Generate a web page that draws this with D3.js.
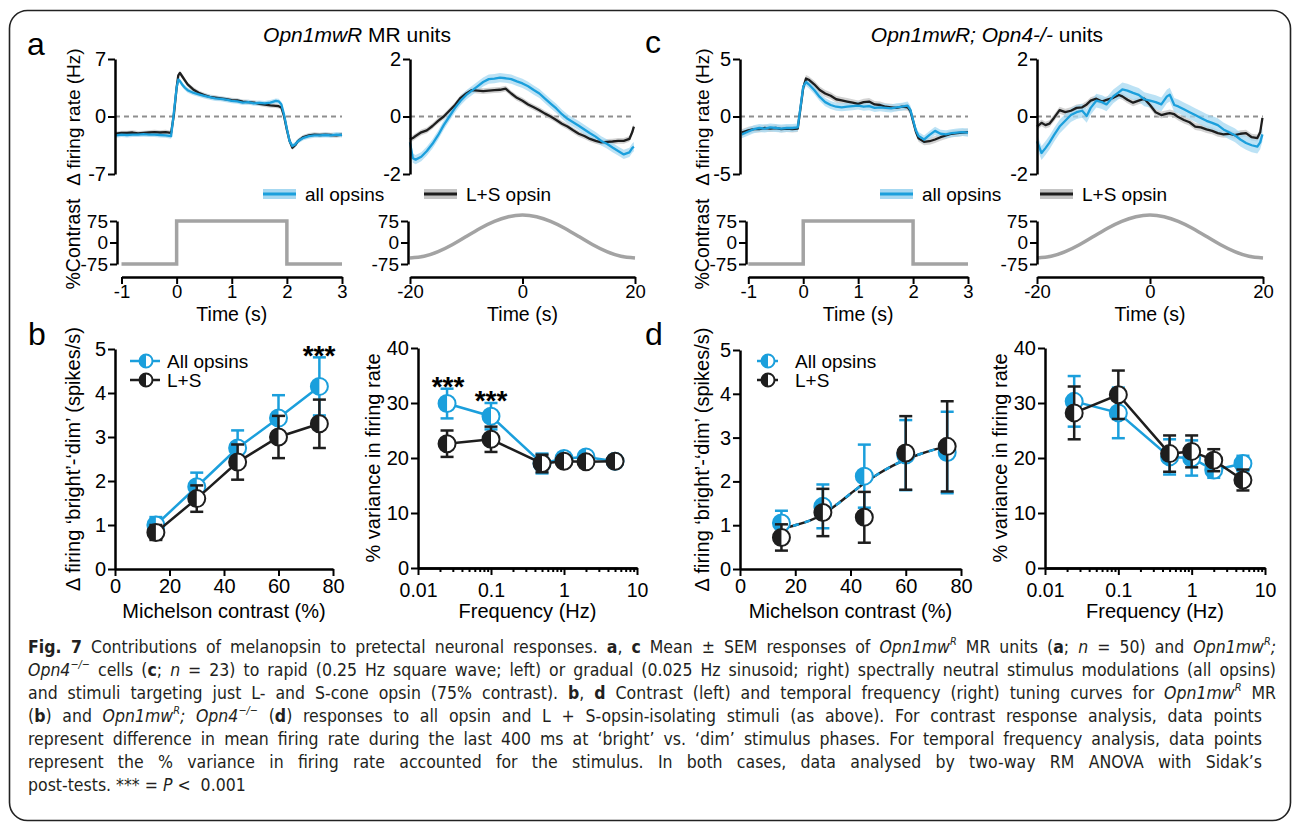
<!DOCTYPE html>
<html>
<head>
<meta charset="utf-8">
<script src="https://cdn.jsdelivr.net/npm/d3@7"></script>
<style>
  body { margin: 0; background: #fff; }
  svg text { font-family: "Liberation Sans", Arial, Helvetica, sans-serif; }
  #caption {
    position: absolute; left: 28px; top: 636px;
    font-family: "Liberation Sans Narrow", "Arial Narrow", "DejaVu Sans Condensed", sans-serif;
    font-stretch: condensed;
    font-size: 17.5px; line-height: 23px; color: #231f20;
  }
  #caption .ln { text-align: justify; text-align-last: justify; white-space: nowrap; height: 23px; }
  #caption .last { text-align: left; text-align-last: left; }
  #caption sup { font-size: 0.62em; line-height: 0; position: relative; top: -0.15em; }
</style>
</head>
<body>
<svg id="fig" width="1296" height="826"></svg>
<div id="caption">
  <div class="ln" style="width:1248px"><b>Fig. 7</b> Contributions of melanopsin to pretectal neuronal responses. <b>a</b>, <b>c</b> Mean ± SEM responses of <i>Opn1mw<sup>R</sup></i> MR units (<b>a</b>; <i>n</i> = 50) and <i>Opn1mw<sup>R</sup>;</i></div>
  <div class="ln" style="width:1248px"><i>Opn4<sup>−/−</sup></i> cells (<b>c</b>; <i>n</i> = 23) to rapid (0.25 Hz square wave; left) or gradual (0.025 Hz sinusoid; right) spectrally neutral stimulus modulations (all opsins)</div>
  <div class="ln" style="width:1248px">and stimuli targeting just L- and S-cone opsin (75% contrast). <b>b</b>, <b>d</b> Contrast (left) and temporal frequency (right) tuning curves for <i>Opn1mw<sup>R</sup></i> MR</div>
  <div class="ln" style="width:1234px">(<b>b</b>) and <i>Opn1mw<sup>R</sup>; Opn4<sup>−/−</sup></i> (<b>d</b>) responses to all opsin and L + S-opsin-isolating stimuli (as above). For contrast response analysis, data points</div>
  <div class="ln" style="width:1234px">represent difference in mean firing rate during the last 400 ms at ‘bright’ vs. ‘dim’ stimulus phases. For temporal frequency analysis, data points</div>
  <div class="ln" style="width:1234px">represent the % variance in firing rate accounted for the stimulus. In both cases, data analysed by two-way RM ANOVA with Sidak’s</div>
  <div class="ln last">post-tests. *** = <i>P</i> &lt;&nbsp; 0.001</div>
</div>
<script>
// colours
var blue = "#1b9fdc", blueBand = "#a6d8f1", black = "#1e1e1e", grayBand = "#c4c4c4", stimGray = "#a3a3a3";

// ---- panel a : Opn1mwR MR units ----
// square wave (left)
var tSqA = [-1.1, -1.0, -0.9, -0.8, -0.7, -0.6, -0.5, -0.4, -0.3, -0.2, -0.1, -0.05, 0.0, 0.03, 0.06, 0.1, 0.15, 0.2, 0.3, 0.4, 0.5, 0.6, 0.7, 0.8, 0.9, 1.0, 1.1, 1.2, 1.3, 1.4, 1.5, 1.6, 1.7, 1.8, 1.85, 1.9, 1.95, 2.0, 2.05, 2.1, 2.15, 2.2, 2.3, 2.4, 2.5, 2.6, 2.7, 2.8, 2.9, 3.0];
var allSqA = [-2.3, -2.2, -2.25, -2.2, -2.2, -2.15, -2.2, -2.2, -2.25, -2.3, -2.4, 0.5, 3.5, 4.5, 4.3, 3.9, 3.5, 3.2, 2.9, 2.7, 2.5, 2.35, 2.2, 2.15, 2.05, 1.9, 1.85, 1.7, 1.75, 1.6, 1.65, 1.6, 1.7, 1.9, 1.85, 1.5, 0.2, -1.5, -3.0, -3.6, -3.4, -3.0, -2.6, -2.4, -2.3, -2.3, -2.25, -2.3, -2.2, -2.25];
var lsSqA = [-2.1, -2.0, -2.0, -1.95, -2.05, -2.0, -1.95, -1.9, -1.95, -1.9, -2.0, 0.2, 3.5, 5.0, 5.3, 4.9, 4.4, 3.9, 3.3, 2.9, 2.6, 2.4, 2.3, 2.2, 2.1, 2.0, 1.95, 1.8, 1.75, 1.7, 1.55, 1.45, 1.35, 1.3, 1.25, 1.1, 0.0, -1.6, -3.0, -3.8, -3.5, -3.0, -2.5, -2.3, -2.2, -2.25, -2.2, -2.25, -2.3, -2.2];
// sinusoid (right)
var tSinA = [-20, -19.5, -19, -18, -17, -16, -15, -14, -13, -12, -11, -10, -9, -8, -7, -6, -5, -4, -3, -2, -1, 0, 1, 2, 3, 4, 5, 6, 7, 8, 9, 10, 11, 12, 13, 14, 15, 16, 17, 18, 19, 19.5, 19.8];
var allSinA = [-0.9, -1.45, -1.5, -1.4, -1.2, -0.95, -0.65, -0.3, 0.0, 0.3, 0.55, 0.75, 0.9, 1.05, 1.2, 1.3, 1.32, 1.35, 1.33, 1.3, 1.22, 1.15, 1.05, 0.92, 0.8, 0.62, 0.45, 0.28, 0.08, -0.08, -0.2, -0.32, -0.45, -0.58, -0.7, -0.85, -0.95, -1.08, -1.2, -1.32, -1.25, -1.1, -1.05];
var lsSinA = [-0.8, -0.75, -0.68, -0.55, -0.48, -0.33, -0.15, 0.0, 0.2, 0.4, 0.65, 0.8, 0.92, 0.9, 0.88, 0.9, 0.92, 0.93, 0.97, 0.8, 0.65, 0.55, 0.42, 0.32, 0.22, 0.1, 0.0, -0.12, -0.25, -0.35, -0.48, -0.6, -0.68, -0.78, -0.85, -0.9, -0.88, -0.87, -0.85, -0.85, -0.78, -0.55, -0.35];

// ---- panel c : Opn1mwR; Opn4-/- units ----
var tSqC = [-1.12, -1.0, -0.9, -0.8, -0.7, -0.6, -0.5, -0.4, -0.3, -0.2, -0.1, -0.05, 0.0, 0.05, 0.1, 0.2, 0.3, 0.4, 0.5, 0.6, 0.7, 0.8, 0.9, 1.0, 1.1, 1.2, 1.3, 1.4, 1.5, 1.6, 1.7, 1.8, 1.9, 1.95, 2.0, 2.05, 2.1, 2.2, 2.3, 2.4, 2.5, 2.6, 2.7, 2.8, 2.9, 3.0];
var allSqC = [-1.55, -1.3, -1.1, -1.0, -1.05, -0.95, -1.0, -1.05, -1.0, -1.0, -0.95, 0.8, 2.6, 3.0, 2.8, 2.3, 1.7, 1.25, 1.0, 0.85, 0.8, 0.85, 0.9, 0.95, 0.85, 0.9, 0.75, 0.8, 0.75, 0.7, 0.8, 0.85, 0.95, 0.6, -0.3, -1.2, -1.7, -2.0, -1.6, -1.25, -1.5, -1.55, -1.45, -1.4, -1.35, -1.4];
var lsSqC = [-1.4, -1.2, -1.1, -1.1, -1.0, -1.05, -1.0, -1.1, -1.05, -1.1, -1.05, 0.7, 2.5, 3.3, 3.2, 2.8, 2.3, 2.0, 1.8, 1.5, 1.4, 1.3, 1.2, 1.1, 1.25, 1.3, 1.05, 1.0, 0.85, 0.8, 0.75, 0.85, 0.8, 0.5, -0.4, -1.3, -1.9, -2.2, -2.15, -2.0, -1.8, -1.65, -1.5, -1.45, -1.4, -1.35];
var tSinC = [-20, -19.2, -18.5, -17.8, -17, -16, -15, -14, -13, -12, -11.2, -10.5, -9.5, -8.5, -7.7, -6.5, -5.5, -4.9, -4, -3, -2, -1, 0, 1, 2, 3, 3.5, 4.3, 5, 6, 7, 8, 9, 10, 11, 12, 13, 14, 15, 16, 17, 18, 19, 19.5, 19.9];
var allSinC = [-0.86, -1.27, -1.1, -0.91, -0.65, -0.35, -0.15, 0.05, 0.15, 0.2, 0.02, 0.3, 0.55, 0.5, 0.42, 0.7, 0.85, 0.94, 0.9, 0.82, 0.75, 0.6, 0.55, 0.5, 0.42, 0.7, 0.76, 0.4, 0.35, 0.25, 0.15, 0.05, -0.05, -0.15, -0.22, -0.3, -0.45, -0.55, -0.65, -0.8, -0.92, -1.0, -1.05, -0.9, -0.62];
var lsSinC = [-0.35, -0.22, -0.3, -0.25, -0.05, 0.22, 0.15, 0.2, 0.3, 0.32, 0.42, 0.55, 0.62, 0.52, 0.58, 0.65, 0.75, 0.7, 0.58, 0.48, 0.55, 0.62, 0.4, 0.15, 0.05, 0.1, 0.12, 0.08, -0.02, -0.12, -0.2, -0.35, -0.38, -0.45, -0.5, -0.58, -0.62, -0.6, -0.65, -0.6, -0.58, -0.72, -0.75, -0.55, -0.05];

// SEM half-widths of the shaded bands (Hz)
var semSqA = [0.3, 0.28], semSinA = [0.16, 0.1], semSqC = [0.35, 0.3], semSinC = [0.24, 0.12];

// stimulus profiles (% contrast)
var stepT = [-1, 0, 0, 2, 2, 3];
var stepC = [-75, -75, 75, 75, -75, -75];
var sineT = [-20, -17.5, -15, -12.5, -10, -7.5, -5, -2.5, 0, 2.5, 5, 7.5, 10, 12.5, 15, 17.5, 20];
var sineC = [-54, -48, -32, -8, 21, 50, 74, 90, 96, 90, 74, 50, 21, -8, -32, -48, -54];

// ---- panels b, d : tuning curves ----
var contrast = [15, 30, 45, 60, 75];
var bAll = [1.0, 1.87, 2.75, 3.43, 4.15], bAllSem = [0.18, 0.32, 0.4, 0.52, 0.66];
var bLS = [0.83, 1.6, 2.43, 3.0, 3.3], bLSSem = [0.17, 0.3, 0.4, 0.48, 0.55];
var dAll = [1.05, 1.43, 2.12, 2.6, 2.66], dAllSem = [0.28, 0.5, 0.72, 0.8, 0.93];
var dLS = [0.72, 1.29, 1.18, 2.65, 2.8], dLSSem = [0.3, 0.54, 0.58, 0.84, 1.03];
var dFitX = [15, 20, 25, 30, 35, 40, 45, 50, 55, 60, 65, 70, 75];
var dFitY = [0.92, 1.0, 1.1, 1.25, 1.47, 1.72, 1.96, 2.17, 2.35, 2.5, 2.62, 2.72, 2.8];

var freq = [0.025, 0.1, 0.5, 1, 2, 5];
var bfAll = [29.9, 27.6, 19.0, 19.9, 20.2, 19.4], bfAllSem = [2.7, 2.4, 1.8, 1.0, 0.8, 0.5];
var bfLS = [22.6, 23.4, 19.0, 19.4, 19.3, 19.4], bfLSSem = [2.4, 2.3, 1.6, 0.8, 0.6, 0.5];
var dfAll = [30.3, 28.2, 20.2, 20.0, 17.8, 19.0], dfAllSem = [4.6, 4.6, 3.2, 3.2, 1.4, 1.4];
var dfLS = [28.2, 31.5, 20.8, 21.2, 19.6, 16.0], dfLSSem = [4.8, 4.4, 3.3, 2.9, 2.0, 1.9];

var svg = d3.select("#fig");

// outer frame
svg.append("rect").attr("x", 9.5).attr("y", 10.5).attr("width", 1281).attr("height", 810)
  .attr("rx", 18).attr("fill", "none").attr("stroke", "#222").attr("stroke-width", 1.6);

function styleAxis(g, fs) {
  g.attr("font-family", null).attr("font-size", null);
  g.select(".domain").attr("stroke", "#000").attr("stroke-width", 2.5);
  g.selectAll(".tick line").attr("stroke", "#000").attr("stroke-width", 2);
  g.selectAll(".tick text").attr("fill", "#000").style("font-size", fs + "px");
}

function label(txt, x, y, size, anchor, rot) {
  var t = svg.append("text").attr("font-size", size).attr("fill", "#000")
    .attr("text-anchor", anchor || "middle").text(txt);
  if (rot) t.attr("transform", `translate(${x},${y}) rotate(-90)`);
  else t.attr("x", x).attr("y", y);
  return t;
}

// ---------- response traces ----------
function drawTraces(p) {
  var x = d3.scaleLinear().domain(p.xDom).range(p.xRange);
  var y = d3.scaleLinear().domain(p.yDom).range([174, 59]);
  var g = svg.append("g");

  g.append("line").attr("x1", p.axisX).attr("x2", p.xRange[1])
    .attr("y1", y(0)).attr("y2", y(0))
    .attr("stroke", "#8f8f8f").attr("stroke-width", 2).attr("stroke-dasharray", "5,4");

  var series = [
    { v: p.ls, sem: p.sem[1], line: black, band: grayBand },
    { v: p.all, sem: p.sem[0], line: blue, band: blueBand }
  ];
  series.forEach(s => {
    var area = d3.area().x((d, i) => x(p.t[i]))
      .y0((d, i) => y(s.v[i] - s.sem)).y1((d, i) => y(s.v[i] + s.sem));
    g.append("path").datum(s.v).attr("d", area).attr("fill", s.band).attr("opacity", 0.75);
  });
  series.forEach(s => {
    var line = d3.line().x((d, i) => x(p.t[i])).y(d => y(d));
    g.append("path").datum(s.v).attr("d", line).attr("fill", "none")
      .attr("stroke", s.line).attr("stroke-width", 2.3).attr("stroke-linejoin", "round");
  });

  var ya = g.append("g").attr("transform", `translate(${p.axisX},0)`)
    .call(d3.axisLeft(y).tickValues(p.yTicks).tickFormat(d => String(d)).tickSize(7).tickSizeOuter(0).tickPadding(2));
  styleAxis(ya, 20);
}

function drawStim(p) {
  var x = d3.scaleLinear().domain(p.xDom).range(p.xRange);
  var y = d3.scaleLinear().domain([-75, 75]).range([264, 221]);
  var g = svg.append("g");
  var line = d3.line().x((d, i) => x(p.t[i])).y(d => y(d)).curve(p.curve);
  g.append("path").datum(p.c).attr("d", line).attr("fill", "none")
    .attr("stroke", stimGray).attr("stroke-width", 3.5);

  var ya = g.append("g").attr("transform", `translate(${p.axisX},0)`)
    .call(d3.axisLeft(y).tickValues([75, 0, -75]).tickFormat(d => String(d)).tickSize(7).tickSizeOuter(0).tickPadding(2));
  styleAxis(ya, 19);
  var xa = g.append("g").attr("transform", "translate(0,277)")
    .call(d3.axisBottom(x).tickValues(p.xTicks).tickFormat(d => String(d)).tickSize(7).tickSizeOuter(0).tickPadding(1));
  styleAxis(xa, 18.5);
  label("Time (s)", (p.xRange[0] + p.xRange[1]) / 2, 321, 19.5);
}

function legendSwatch(x, y, lineCol, bandCol, txt) {
  svg.append("rect").attr("x", x).attr("y", y - 5).attr("width", 33).attr("height", 10).attr("fill", bandCol);
  svg.append("line").attr("x1", x).attr("x2", x + 33).attr("y1", y).attr("y2", y)
    .attr("stroke", lineCol).attr("stroke-width", 3);
  label(txt, x + 42, y + 7, 19, "start");
}

// panel a
drawTraces({ t: tSqA, all: allSqA, ls: lsSqA, sem: semSqA, xDom: [-1, 3], xRange: [121.5, 342], axisX: 115, yDom: [-7, 7], yTicks: [7, 0, -7] });
drawTraces({ t: tSinA, all: allSinA, ls: lsSinA, sem: semSinA, xDom: [-20, 20], xRange: [410, 635], axisX: 410, yDom: [-2, 2], yTicks: [2, 0, -2] });
drawStim({ t: stepT, c: stepC, curve: d3.curveLinear, xDom: [-1, 3], xRange: [121.5, 342], axisX: 117, xTicks: [-1, 0, 1, 2, 3] });
drawStim({ t: sineT, c: sineC, curve: d3.curveNatural, xDom: [-20, 20], xRange: [410, 635], axisX: 408, xTicks: [-20, 0, 20] });
legendSwatch(263, 194, blue, blueBand, "all opsins");
legendSwatch(424, 194, black, grayBand, "L+S opsin");

// panel c
drawTraces({ t: tSqC, all: allSqC, ls: lsSqC, sem: semSqC, xDom: [-1, 3], xRange: [748.3, 968], axisX: 740, yDom: [-5, 5], yTicks: [5, 0, -5] });
drawTraces({ t: tSinC, all: allSinC, ls: lsSinC, sem: semSinC, xDom: [-20, 20], xRange: [1037, 1263], axisX: 1037, yDom: [-2, 2], yTicks: [2, 0, -2] });
drawStim({ t: stepT, c: stepC, curve: d3.curveLinear, xDom: [-1, 3], xRange: [748.3, 968], axisX: 746, xTicks: [-1, 0, 1, 2, 3] });
drawStim({ t: sineT, c: sineC, curve: d3.curveNatural, xDom: [-20, 20], xRange: [1037, 1263], axisX: 1037, xTicks: [-20, 0, 20] });
legendSwatch(880, 194, blue, blueBand, "all opsins");
legendSwatch(1040, 194, black, grayBand, "L+S opsin");

// y titles, top row
label("\u0394 firing rate (Hz)", 80, 117, 19, "middle", true);
label("%Contrast", 80, 244, 19.5, "middle", true);
label("\u0394 firing rate (Hz)", 709, 117, 19, "middle", true);
label("%Contrast", 709, 244, 19.5, "middle", true);

// titles
var t1 = svg.append("text").attr("x", 357).attr("y", 42).attr("font-size", 21).attr("text-anchor", "middle");
t1.append("tspan").attr("font-style", "italic").text("Opn1mwR");
t1.append("tspan").text(" MR units");
var t2 = svg.append("text").attr("x", 987).attr("y", 42).attr("font-size", 21).attr("text-anchor", "middle");
t2.append("tspan").attr("font-style", "italic").text("Opn1mwR; Opn4-/-");
t2.append("tspan").text(" units");

// panel letters
label("a", 27, 55, 32, "start");
label("c", 645, 53, 32, "start");
label("b", 28, 345, 32, "start");
label("d", 645, 345, 32, "start");

// ---------- tuning curves ----------
function halfCircle(g, cx, cy, r, col) {
  g.append("circle").attr("cx", cx).attr("cy", cy).attr("r", r).attr("fill", "#fff");
  g.append("path").attr("d", `M${cx},${cy - r} A${r},${r} 0 0 0 ${cx},${cy + r} Z`).attr("fill", col);
  g.append("circle").attr("cx", cx).attr("cy", cy).attr("r", r).attr("fill", "none")
    .attr("stroke", col).attr("stroke-width", 2);
}

function drawTuning(p) {
  var x = p.log ? d3.scaleLog().domain([0.01, 10]).range(p.xRange)
                : d3.scaleLinear().domain([0, 80]).range(p.xRange);
  var y = d3.scaleLinear().domain(p.yDom).range(p.yRange);
  var g = svg.append("g");

  if (p.fit) {
    var fl = d3.line().x((d, i) => x(p.fit[0][i])).y(d => y(d)).curve(d3.curveMonotoneX);
    g.append("path").datum(p.fit[1]).attr("d", fl).attr("fill", "none").attr("stroke", black).attr("stroke-width", 2.5);
    g.append("path").datum(p.fit[1]).attr("d", fl).attr("fill", "none").attr("stroke", blue)
      .attr("stroke-width", 2.5).attr("stroke-dasharray", "6,6");
  }

  p.series.forEach(s => {
    if (!p.fit) {
      var l = d3.line().x((d, i) => x(p.xs[i])).y(d => y(d));
      g.append("path").datum(s.v).attr("d", l).attr("fill", "none").attr("stroke", s.col).attr("stroke-width", 2.5);
    }
    s.v.forEach((v, i) => {
      var cx = x(p.xs[i]);
      var e = g.append("g").attr("stroke", s.col).attr("stroke-width", 2.5);
      e.append("line").attr("x1", cx).attr("x2", cx).attr("y1", y(v - s.sem[i])).attr("y2", y(v + s.sem[i]));
      [v - s.sem[i], v + s.sem[i]].forEach(c => {
        e.append("line").attr("x1", cx - 6.5).attr("x2", cx + 6.5).attr("y1", y(c)).attr("y2", y(c));
      });
    });
    s.v.forEach((v, i) => halfCircle(g, x(p.xs[i]), y(v), 8.5, s.col));
  });

  var ya = g.append("g").attr("transform", `translate(${p.xRange[0]},0)`)
    .call(d3.axisLeft(y).tickValues(p.yTicks).tickFormat(d => String(d)).tickSize(7).tickSizeOuter(0).tickPadding(2));
  styleAxis(ya, 20);
  var bottom = p.yRange[0];
  if (p.log) {
    var minor = [];
    [0.01, 0.1, 1].forEach(dec => { for (var k = 2; k <= 9; k++) minor.push(dec * k); });
    var xm = g.append("g").attr("transform", `translate(0,${bottom})`)
      .call(d3.axisBottom(x).tickValues(minor).tickFormat("").tickSize(4).tickSizeOuter(0));
    styleAxis(xm, 20);
    var xa = g.append("g").attr("transform", `translate(0,${bottom})`)
      .call(d3.axisBottom(x).tickValues([0.01, 0.1, 1, 10]).tickFormat(d => String(d)).tickSize(7).tickSizeOuter(0).tickPadding(8));
    styleAxis(xa, 19.5);
  } else {
    var xa2 = g.append("g").attr("transform", `translate(0,${bottom})`)
      .call(d3.axisBottom(x).tickValues([0, 20, 40, 60, 80]).tickFormat(d => String(d)).tickSize(7).tickSizeOuter(0).tickPadding(3));
    styleAxis(xa2, 20);
  }
  label(p.xTitle, (p.xRange[0] + p.xRange[1]) / 2, 618, 20);
  label(p.yTitle, p.yTitleX, (p.yRange[0] + p.yRange[1]) / 2, 20, "middle", true);
  return { x: x, y: y };
}

var yTitleB = "\u0394 firing \u2018bright\u2019-\u2018dim\u2019 (spikes/s)";
var yTitleF = "% variance in firing rate";

drawTuning({ xs: contrast, xRange: [115, 333], yDom: [0, 5], yRange: [569, 349], yTicks: [0, 1, 2, 3, 4, 5],
  series: [{ v: bAll, sem: bAllSem, col: blue }, { v: bLS, sem: bLSSem, col: black }],
  xTitle: "Michelson contrast (%)", yTitle: yTitleB, yTitleX: 80 });
drawTuning({ log: true, xs: freq, xRange: [418, 637], yDom: [0, 40], yRange: [568, 348], yTicks: [0, 10, 20, 30, 40],
  series: [{ v: bfAll, sem: bfAllSem, col: blue }, { v: bfLS, sem: bfLSSem, col: black }],
  xTitle: "Frequency (Hz)", yTitle: yTitleF, yTitleX: 380 });
drawTuning({ xs: contrast, xRange: [740, 961], yDom: [0, 5], yRange: [569, 350], yTicks: [0, 1, 2, 3, 4, 5],
  fit: [dFitX, dFitY],
  series: [{ v: dAll, sem: dAllSem, col: blue }, { v: dLS, sem: dLSSem, col: black }],
  xTitle: "Michelson contrast (%)", yTitle: yTitleB, yTitleX: 709 });
drawTuning({ log: true, xs: freq, xRange: [1045, 1265], yDom: [0, 40], yRange: [568, 348], yTicks: [0, 10, 20, 30, 40],
  series: [{ v: dfAll, sem: dfAllSem, col: blue }, { v: dfLS, sem: dfLSSem, col: black }],
  xTitle: "Frequency (Hz)", yTitle: yTitleF, yTitleX: 1007 });

// legends in b and d
function markerLegend(x0, x1, cx, tx, y, col, txt) {
  var g = svg.append("g");
  g.append("line").attr("x1", x0).attr("x2", x1).attr("y1", y).attr("y2", y).attr("stroke", col).attr("stroke-width", 2.5);
  halfCircle(g, cx, y, 6.5, col);
  label(txt, tx, y + 6.5, 19, "start");
}
markerLegend(130, 160, 146, 167, 361, blue, "All opsins");
markerLegend(130, 160, 146, 167, 380, black, "L+S");
markerLegend(757, 778, 768, 795, 361, blue, "All opsins");
markerLegend(757, 778, 768, 795, 380, black, "L+S");

// significance stars
function stars(x, y) {
  svg.append("text").attr("x", x).attr("y", y + 16).attr("font-size", 28).attr("font-weight", "bold")
    .attr("text-anchor", "middle").text("***");
}
stars(319, 349);
stars(448, 380);
stars(491, 394);
</script>
</body>
</html>
